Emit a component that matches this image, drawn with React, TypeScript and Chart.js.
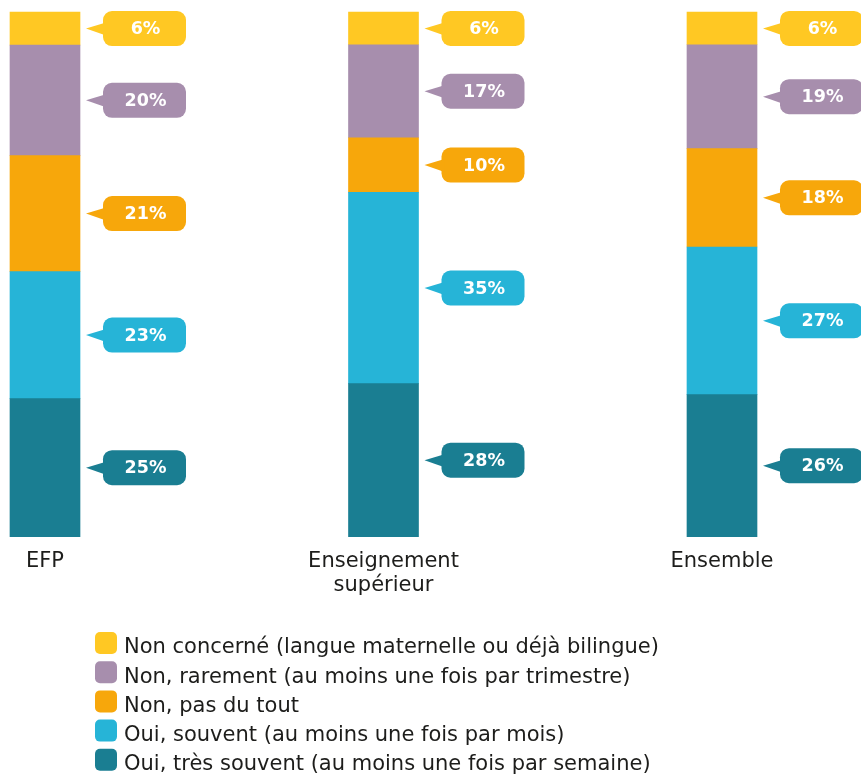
import { useEffect, useRef } from "react";
import { Chart, registerables } from "chart.js";

Chart.register(...registerables);

const categories: string[][] = [["EFP"], ["Enseignement", "supérieur"], ["Ensemble"]];

// Series (top to bottom in legend order)
const legendLabels = [
  "Non concerné (langue maternelle ou déjà bilingue)",
  "Non, rarement (au moins une fois par trimestre)",
  "Non, pas du tout",
  "Oui, souvent (au moins une fois par mois)",
  "Oui, très souvent (au moins une fois par semaine)",
];
const nonConcerne = [6, 6, 6];
const rarement = [20, 17, 19];
const pasDuTout = [21, 10, 18];
const souvent = [23, 35, 27];
const tresSouvent = [25, 28, 26];

const seriesColors = ["#FFC823", "#A78EAD", "#F7A70B", "#26B4D7", "#1A7E92"];

const FONT = "'DejaVu Sans', sans-serif";
const TEXT = "#1d1d1b";

function roundedRect(ctx: CanvasRenderingContext2D, x: number, y: number, w: number, h: number, r: number) {
  ctx.beginPath();
  ctx.moveTo(x + r, y);
  ctx.lineTo(x + w - r, y);
  ctx.arcTo(x + w, y, x + w, y + r, r);
  ctx.lineTo(x + w, y + h - r);
  ctx.arcTo(x + w, y + h, x + w - r, y + h, r);
  ctx.lineTo(x + r, y + h);
  ctx.arcTo(x, y + h, x, y + h - r, r);
  ctx.lineTo(x, y + r);
  ctx.arcTo(x, y, x + r, y, r);
  ctx.closePath();
}

export default function App() {
  const ref = useRef<HTMLCanvasElement | null>(null);

  useEffect(() => {
    document.body.style.margin = "0";
    const canvas = ref.current;
    if (!canvas) return;

    const seriesTop = [nonConcerne, rarement, pasDuTout, souvent, tresSouvent];
    const totals = categories.map((_, j) => seriesTop.reduce((s, arr) => s + arr[j], 0));
    // stacking order: bottom first
    const order = [4, 3, 2, 1, 0];
    const datasets = order.map((k) => ({
      label: legendLabels[k],
      data: seriesTop[k].map((v, j) => (v / totals[j]) * 100),
      rawValues: seriesTop[k],
      backgroundColor: seriesColors[k],
      borderWidth: 0,
      barThickness: 70,
      clip: false as const,
    }));

    const bubblePlugin = {
      id: "bubbles",
      afterDatasetsDraw(chart: any) {
        const ctx: CanvasRenderingContext2D = chart.ctx;
        ctx.save();
        chart.data.datasets.forEach((ds: any, i: number) => {
          const meta = chart.getDatasetMeta(i);
          meta.data.forEach((el: any, j: number) => {
            const { x, y, base } = el.getProps(["x", "y", "base"], true);
            const cy = (y + base) / 2;
            const color = ds.backgroundColor;
            const bx = x + 58;
            const bw = 83;
            const bh = 35;
            ctx.fillStyle = color;
            roundedRect(ctx, bx, cy - bh / 2, bw, bh, 9);
            ctx.fill();
            ctx.beginPath();
            ctx.moveTo(x + 41, cy);
            ctx.lineTo(bx + 3, cy - 6);
            ctx.lineTo(bx + 3, cy + 7);
            ctx.closePath();
            ctx.fill();
            ctx.fillStyle = "#ffffff";
            ctx.font = `bold 17.5px ${FONT}`;
            ctx.textAlign = "center";
            ctx.textBaseline = "middle";
            ctx.fillText(`${ds.rawValues[j]}%`, bx + bw / 2 + 1, cy + 1);
          });
        });
        ctx.restore();
      },
      afterDraw(chart: any) {
        const ctx: CanvasRenderingContext2D = chart.ctx;
        ctx.save();
        legendLabels.forEach((lab, k) => {
          const cy = 643 + k * 29.2;
          ctx.fillStyle = seriesColors[k];
          roundedRect(ctx, 95, cy - 11, 22, 22, 5);
          ctx.fill();
          ctx.fillStyle = TEXT;
          ctx.font = `21px ${FONT}`;
          ctx.textAlign = "left";
          ctx.textBaseline = "middle";
          ctx.fillText(lab, 124, cy + 5);
        });
        ctx.restore();
      },
    };

    const chart = new Chart(canvas, {
      type: "bar",
      data: { labels: categories, datasets },
      options: {
        responsive: false,
        animation: false,
        layout: { padding: { left: 45, right: 139, top: 12, bottom: 167 } },
        plugins: { legend: { display: false }, tooltip: { enabled: false } },
        scales: {
          x: {
            stacked: true,
            offset: false,
            grid: { display: false, drawTicks: false },
            border: { display: false },
            ticks: {
              autoSkip: false,
              maxRotation: 0,
              padding: 13,
              color: TEXT,
              font: { family: FONT, size: 21, lineHeight: 1.15 },
            },
          },
          y: {
            stacked: true,
            min: 0,
            max: 100,
            display: false,
          },
        },
      },
      plugins: [bubblePlugin],
    });
    return () => chart.destroy();
  }, []);

  return <canvas ref={ref} width={861} height={778} style={{ display: "block" }} />;
}
